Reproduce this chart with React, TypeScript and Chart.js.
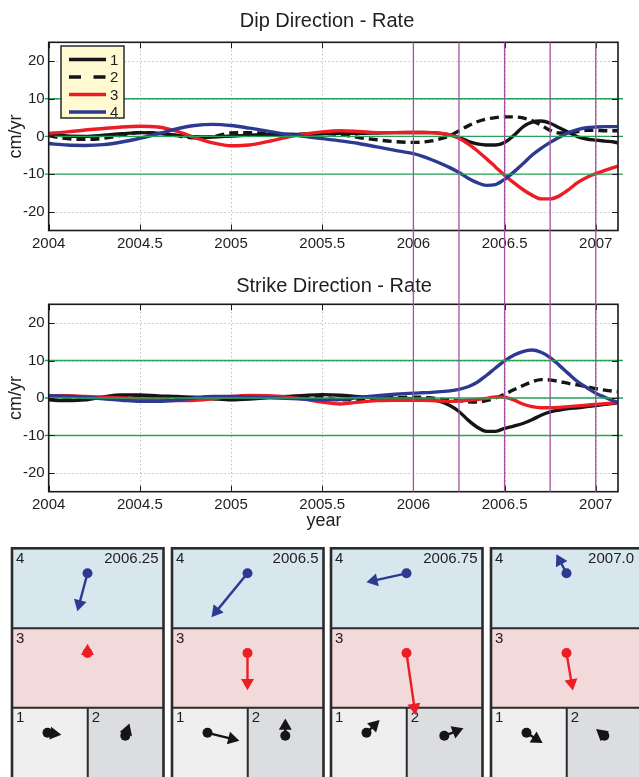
import React, { useEffect, useRef } from 'react';
import { Chart, registerables } from 'chart.js';

Chart.register(...registerables);

const FONT = '"Liberation Sans", Arial, Helvetica, sans-serif';

// ---------------- data ----------------
const years = [
  2004.0, 2004.1, 2004.2, 2004.3, 2004.4, 2004.5, 2004.6, 2004.7, 2004.8, 2004.9,
  2005.0, 2005.1, 2005.2, 2005.3, 2005.4, 2005.5, 2005.6, 2005.7, 2005.8, 2005.9,
  2006.0, 2006.05, 2006.1, 2006.15, 2006.2, 2006.25, 2006.3, 2006.35, 2006.4, 2006.45,
  2006.5, 2006.55, 2006.6, 2006.65, 2006.7, 2006.75, 2006.8, 2006.85, 2006.9, 2006.95,
  2007.0, 2007.05, 2007.1, 2007.12,
];

const dip1 = [
  0.5, 0.1, 0.0, 0.3, 0.7, 1.0, 0.85, 0.35, -0.1, -0.15,
  0.1, 0.35, 0.45, 0.5, 0.55, 0.7, 0.8, 0.8, 0.9, 1.0,
  1.05, 1.05, 1.0, 0.8, 0.4, -0.3, -1.3, -2.0, -2.3, -2.3,
  -1.6, 0.2, 2.5, 3.8, 4.1, 3.5, 2.3, 1.1, -0.1, -0.7,
  -1.0, -1.25, -1.5, -1.7,
];
const dip2 = [
  0.2, -0.6, -0.8, -0.5, 0.3, 1.0, 0.9, 0.2, -0.4, -0.1,
  0.9, 1.0, 0.8, 0.5, 0.6, 0.8, 0.5, -0.3, -0.9, -1.4,
  -1.6, -1.5, -1.2, -0.6, 0.2, 1.5, 2.8, 3.9, 4.6, 5.0,
  5.2, 5.2, 4.9, 4.2, 3.0, 1.6, 0.9, 0.9, 1.3, 1.6,
  1.6, 1.5, 1.5, 1.5,
];
const dip3 = [
  0.8, 1.2, 1.7, 2.1, 2.5, 2.7, 2.5, 1.4, -0.3, -1.7,
  -2.5, -2.3, -1.4, -0.3, 0.6, 1.2, 1.5, 1.3, 1.0, 1.0,
  1.05, 1.05, 1.0, 0.8, 0.4, -0.5, -2.0, -3.8, -5.9, -8.1,
  -10.3, -12.3, -14.1, -15.6, -16.6, -16.6, -15.8, -14.2, -12.3, -10.9,
  -9.9, -9.0, -8.2, -7.9,
];
const dip4 = [
  -1.9, -2.3, -2.4, -2.2, -1.5, -0.5, 0.7, 2.0, 2.9, 3.2,
  2.9, 2.2, 1.4, 0.6, 0.0, -0.6, -1.2, -1.9, -2.8, -3.7,
  -4.6, -5.3, -6.2, -7.2, -8.3, -9.6, -11.1, -12.3, -13.0, -12.8,
  -11.4, -9.5, -7.3, -5.0, -3.2, -1.6, -0.2, 1.0, 1.8, 2.3,
  2.5, 2.6, 2.6, 2.6,
];

const strike1 = [
  -0.5, -0.7, -0.5, 0.3, 0.8, 0.8, 0.55, 0.4, 0.2, -0.2,
  -0.5, -0.3, 0.1, 0.4, 0.7, 0.9, 0.75, 0.35, 0.1, -0.1,
  -0.2, -0.3, -0.5, -1.0, -2.0, -3.6, -5.9, -7.8, -8.9, -8.9,
  -8.1, -7.5, -6.8, -5.8, -4.6, -3.7, -3.2, -2.8, -2.6, -2.3,
  -2.0, -1.7, -1.4, -1.3,
];
const strike2 = [
  -0.3, -0.4, -0.2, 0.2, 0.5, 0.5, 0.3, 0.1, 0.1, 0.2,
  0.1, 0.0, 0.1, 0.3, 0.4, 0.3, -0.5, -0.4, 0.0, 0.1,
  0.2, 0.2, 0.0, -0.3, -0.5, -0.7, -1.0, -1.1, -0.7, 0.0,
  1.0, 2.2, 3.3, 4.3, 4.9, 4.8, 4.4, 3.9, 3.5, 3.0,
  2.5, 2.1, 1.8, 1.7,
];
const strike3 = [
  0.6, 0.6, 0.4, 0.2, 0.0, -0.2, -0.4, -0.7, -0.6, -0.2,
  0.4, 0.7, 0.6, 0.3, -0.3, -1.1, -1.6, -1.1, -0.7, -0.6,
  -0.6, -0.6, -0.7, -0.8, -0.9, -0.8, -0.6, -0.4, -0.1, 0.3,
  0.2, -0.5, -1.6, -2.3, -2.6, -2.6, -2.5, -2.3, -2.1, -1.9,
  -1.7, -1.5, -1.3, -1.2,
];
const strike4 = [
  0.6, 0.5, 0.2, -0.2, -0.6, -0.9, -0.9, -0.6, 0.0, 0.4,
  0.4, 0.3, 0.1, -0.1, -0.3, -0.5, -0.4, 0.1, 0.6, 1.0,
  1.3, 1.4, 1.5, 1.7, 1.9, 2.3, 3.0, 4.2, 6.0, 8.0,
  9.9, 11.4, 12.4, 12.8, 12.2, 10.8, 8.7, 6.5, 4.4, 2.8,
  1.3, 0.2, -0.8, -1.1,
];

const seriesLabels = ['1', '2', '3', '4'];
const xTickValues = [2004, 2004.5, 2005, 2005.5, 2006, 2006.5, 2007];
const yTickValues = [-20, -10, 0, 10, 20];
const refLevels = [-10, 0, 10];
const snapshotYears = [2006, 2006.25, 2006.5, 2006.75, 2007];

// arrow snapshots (cm/yr), index = station 1..4
const panelLabels = ['2006.25', '2006.5', '2006.75', '2007.0'];
const arrowEast = [
  [3.7, 1.1, 0.0, -2.7],
  [8.5, 0.0, 0.0, -9.6],
  [3.5, 5.1, 2.4, -10.7],
  [4.3, -2.2, 1.7, -2.7],
];
const arrowNorth = [
  [-0.5, 3.3, 2.5, -10.1],
  [-2.1, 4.6, -9.9, -11.7],
  [3.4, 2.0, -16.5, -2.4],
  [-2.7, 1.8, -10.0, 5.1],
];

// ---------------- styles ----------------
const COLORS = ['#151515', '#151515', '#ee1d24', '#2c3a92'];
const GREEN = '#25a456';
const PURPLE = '#a2509f';
const TEXT = '#1e1e1e';

// ---------------- rate chart decoration ----------------
const rateDecor = {
  id: 'rateDecor',
  beforeDatasetsDraw(chart: any) {
    const { ctx, chartArea: a } = chart;
    const sx = chart.scales.x;
    const sy = chart.scales.y;
    ctx.save();
    ctx.strokeStyle = '#a3a3a3';
    ctx.lineWidth = 1;
    ctx.setLineDash([1, 3]);
    ctx.beginPath();
    xTickValues.forEach((v) => {
      const px = Math.round(sx.getPixelForValue(v)) + 0.5;
      if (px > a.left + 2 && px < a.right - 2) {
        ctx.moveTo(px, a.top);
        ctx.lineTo(px, a.bottom);
      }
    });
    yTickValues.forEach((v) => {
      const py = Math.round(sy.getPixelForValue(v)) + 0.5;
      ctx.moveTo(a.left, py);
      ctx.lineTo(a.right, py);
    });
    ctx.stroke();
    ctx.restore();
  },
  afterDatasetsDraw(chart: any, _args: any, opts: any) {
    const { ctx, chartArea: a } = chart;
    const sx = chart.scales.x;
    const sy = chart.scales.y;
    ctx.save();
    ctx.setLineDash([]);
    // reference levels
    ctx.strokeStyle = GREEN;
    ctx.lineWidth = 1.3;
    refLevels.forEach((v) => {
      const py = sy.getPixelForValue(v);
      ctx.beginPath();
      ctx.moveTo(a.left - 4, py);
      ctx.lineTo(a.right + 5, py);
      ctx.stroke();
    });
    // box
    ctx.strokeStyle = '#1a1a1a';
    ctx.lineWidth = 1.6;
    ctx.strokeRect(a.left, a.top, a.right - a.left, a.bottom - a.top);
    // inward ticks
    ctx.lineWidth = 1;
    ctx.beginPath();
    xTickValues.forEach((v) => {
      const px = Math.round(sx.getPixelForValue(v)) + 0.5;
      ctx.moveTo(px, a.bottom);
      ctx.lineTo(px, a.bottom - 6);
      ctx.moveTo(px, a.top);
      ctx.lineTo(px, a.top + 6);
    });
    yTickValues.forEach((v) => {
      const py = Math.round(sy.getPixelForValue(v)) + 0.5;
      ctx.moveTo(a.left, py);
      ctx.lineTo(a.left + 6, py);
      ctx.moveTo(a.right, py);
      ctx.lineTo(a.right - 6, py);
    });
    ctx.stroke();
    // title
    ctx.fillStyle = TEXT;
    ctx.font = `20px ${FONT}`;
    ctx.textAlign = 'center';
    ctx.textBaseline = 'middle';
    ctx.fillText(opts.title, opts.titleX, opts.titleY);
    if (opts.xLabel) {
      ctx.font = `18px ${FONT}`;
      ctx.fillText(opts.xLabel, opts.xLabelX, opts.xLabelY);
    }
    // snapshot markers
    ctx.strokeStyle = PURPLE;
    ctx.lineWidth = 1.3;
    const y0 = opts.purpleFromCanvasTop ? 0 : a.top;
    const y1 = opts.purpleFromCanvasTop ? a.bottom : chart.height;
    snapshotYears.forEach((v) => {
      const px = sx.getPixelForValue(v);
      ctx.beginPath();
      ctx.moveTo(px, y0);
      ctx.lineTo(px, y1);
      ctx.stroke();
    });
    // legend
    if (opts.legend) {
      const lx = 61, ly = 46, lw = 63, lh = 72;
      ctx.fillStyle = '#fffad2';
      ctx.fillRect(lx, ly, lw, lh);
      ctx.strokeStyle = '#2a2a2a';
      ctx.lineWidth = 1.5;
      ctx.strokeRect(lx, ly, lw, lh);
      chart.data.datasets.forEach((ds: any, i: number) => {
        const ry = ly + 13.5 + i * 17.5;
        ctx.strokeStyle = ds.borderColor;
        ctx.lineWidth = 3.5;
        ctx.setLineDash(ds.borderDash && ds.borderDash.length ? [12, 12.5] : []);
        ctx.beginPath();
        ctx.moveTo(lx + 8, ry);
        ctx.lineTo(lx + 45, ry);
        ctx.stroke();
        ctx.setLineDash([]);
        ctx.fillStyle = TEXT;
        ctx.font = `15px ${FONT}`;
        ctx.textAlign = 'left';
        ctx.textBaseline = 'middle';
        ctx.fillText(ds.label, lx + 49, ry + 1);
      });
    }
    ctx.restore();
  },
};

function makeRateChart(
  canvas: HTMLCanvasElement,
  series: number[][],
  o: any,
) {
  const datasets = series.map((vals, i) => ({
    label: seriesLabels[i],
    data: years.map((x, j) => ({ x, y: vals[j] })),
    borderColor: COLORS[i],
    backgroundColor: COLORS[i],
    borderWidth: 3.4,
    borderDash: i === 1 ? [9, 5] : [],
    borderCapStyle: 'butt',
    pointRadius: 0,
    cubicInterpolationMode: 'monotone',
    fill: false,
    order: 4 - i,
  }));
  return new Chart(canvas, {
    type: 'line',
    data: { datasets } as any,
    plugins: [rateDecor as any],
    options: {
      responsive: false,
      animation: false,
      devicePixelRatio: 1,
      events: [],
      layout: { autoPadding: false, padding: { top: 42.3, right: 21, left: 0, bottom: 0 } },
      plugins: {
        legend: { display: false },
        tooltip: { enabled: false },
        rateDecor: o,
      } as any,
      scales: {
        x: {
          type: 'linear',
          min: 2004,
          max: 2007.122,
          afterBuildTicks: (s: any) => {
            s.ticks = xTickValues.map((v) => ({ value: v }));
          },
          afterFit: (s: any) => {
            s.height = o.xAxisHeight;
          },
          grid: { display: false, drawTicks: false },
          border: { display: false },
          ticks: {
            padding: 4.5,
            maxRotation: 0,
            autoSkip: false,
            color: TEXT,
            font: { family: FONT, size: 15 },
            callback: (v: any) => String(Math.round(Number(v) * 10) / 10),
          },
        },
        y: {
          type: 'linear',
          min: -25,
          max: 25,
          afterBuildTicks: (s: any) => {
            s.ticks = yTickValues.map((v) => ({ value: v }));
          },
          afterFit: (s: any) => {
            s.width = 48.7;
          },
          grid: { display: false, drawTicks: false },
          border: { display: false },
          ticks: {
            padding: 4,
            autoSkip: false,
            color: TEXT,
            font: { family: FONT, size: 15 },
            callback: (v: any) => String(v),
          },
          title: {
            display: true,
            text: 'cm/yr',
            color: TEXT,
            font: { family: FONT, size: 18 },
            padding: { top: 5, bottom: 0 },
          },
        },
      },
    } as any,
  });
}

// ---------------- snapshot panels ----------------
const PANEL_LEFTS = [12, 172, 331, 491];
const PANEL_W = 151.5;
const PANEL_TOP = 8.3;
const ROW_H = 80;
const ARROW_PX_PER_UNIT = 3.75;
const HEAD_R = 7.5;
// station anchor offsets relative to panel left/top, index = station 1..4
const STATION_OFFSETS = [
  [35.5, 184.5],
  [113.3, 187.5],
  [75.5, 104.7],
  [75.5, 25],
];
const DRAW_ORDER = [3, 2, 0, 1];

const panelDecor = {
  id: 'panelDecor',
  beforeDatasetsDraw(chart: any) {
    const { ctx } = chart;
    const sx = chart.scales.x;
    const sy = chart.scales.y;
    const X = (v: number) => sx.getPixelForValue(v);
    const Y = (v: number) => sy.getPixelForValue(v);
    ctx.save();
    panelLabels.forEach((lab, p) => {
      const L = PANEL_LEFTS[p];
      const R = L + PANEL_W;
      const T = PANEL_TOP;
      const M1 = T + ROW_H;
      const M2 = M1 + 79.4;
      const B = 250;
      const C = L + PANEL_W / 2;
      ctx.fillStyle = '#d8e7ed';
      ctx.fillRect(X(L), Y(T), X(R) - X(L), Y(M1) - Y(T));
      ctx.fillStyle = '#f2d9da';
      ctx.fillRect(X(L), Y(M1), X(R) - X(L), Y(M2) - Y(M1));
      ctx.fillStyle = '#efefef';
      ctx.fillRect(X(L), Y(M2), X(C) - X(L), Y(B) - Y(M2));
      ctx.fillStyle = '#dcdde0';
      ctx.fillRect(X(C), Y(M2), X(R) - X(C), Y(B) - Y(M2));
      ctx.strokeStyle = '#2b2b2b';
      ctx.lineWidth = 2;
      ctx.beginPath();
      ctx.moveTo(X(L), Y(M1));
      ctx.lineTo(X(R), Y(M1));
      ctx.moveTo(X(L), Y(M2));
      ctx.lineTo(X(R), Y(M2));
      ctx.moveTo(X(C), Y(M2));
      ctx.lineTo(X(C), Y(B));
      ctx.stroke();
      ctx.lineWidth = 2.6;
      ctx.strokeRect(X(L), Y(T), X(R) - X(L), Y(B) - Y(T));
      ctx.fillStyle = TEXT;
      ctx.font = `15px ${FONT}`;
      ctx.textBaseline = 'middle';
      ctx.textAlign = 'left';
      ctx.fillText('4', X(L + 4), Y(T + 11));
      ctx.fillText('3', X(L + 4), Y(M1 + 11));
      ctx.fillText('1', X(L + 4), Y(M2 + 10));
      ctx.fillText('2', X(C + 4), Y(M2 + 10));
      ctx.textAlign = 'right';
      ctx.fillText(lab, X(Math.min(R - 5, 634)), Y(T + 10.5));
    });
    ctx.restore();
  },
};

function makePanelChart(canvas: HTMLCanvasElement) {
  const datasets: any[] = [];
  panelLabels.forEach((_lab, p) => {
    DRAW_ORDER.forEach((s) => {
      const ox = PANEL_LEFTS[p] + STATION_OFFSETS[s][0];
      const oy = PANEL_TOP + STATION_OFFSETS[s][1];
      const dx = arrowEast[p][s] * ARROW_PX_PER_UNIT;
      const dy = -arrowNorth[p][s] * ARROW_PX_PER_UNIT;
      const len = Math.hypot(dx, dy) || 1;
      const ux = dx / len;
      const uy = dy / len;
      const hx = ox + dx - HEAD_R * ux;
      const hy = oy + dy - HEAD_R * uy;
      const angle = (Math.atan2(ux, -uy) * 180) / Math.PI;
      const c = COLORS[s];
      datasets.push({
        label: `${panelLabels[p]}-${s + 1}`,
        data: [
          { x: ox, y: oy },
          { x: hx, y: hy },
        ],
        showLine: true,
        borderColor: c,
        backgroundColor: c,
        borderWidth: 2.4,
        pointStyle: ['circle', 'triangle'],
        pointRadius: [5, HEAD_R],
        pointRotation: [0, angle],
        pointBackgroundColor: c,
        pointBorderColor: c,
        pointBorderWidth: 0,
        tension: 0,
        clip: false,
      });
    });
  });
  return new Chart(canvas, {
    type: 'scatter',
    data: { datasets },
    plugins: [panelDecor as any],
    options: {
      responsive: false,
      animation: false,
      devicePixelRatio: 1,
      events: [],
      layout: { autoPadding: false, padding: 0 },
      plugins: { legend: { display: false }, tooltip: { enabled: false } },
      scales: {
        x: { type: 'linear', min: 0, max: 639, display: false },
        y: { type: 'linear', min: 0, max: 237, reverse: true, display: false },
      },
    } as any,
  });
}

export default function App() {
  const topRef = useRef<HTMLCanvasElement>(null);
  const botRef = useRef<HTMLCanvasElement>(null);
  const panRef = useRef<HTMLCanvasElement>(null);

  useEffect(() => {
    const charts: Chart[] = [];
    if (topRef.current) {
      charts.push(
        makeRateChart(topRef.current, [dip1, dip2, dip3, dip4], {
          title: 'Dip Direction - Rate',
          titleX: 327,
          titleY: 21,
          legend: true,
          purpleFromCanvasTop: false,
          xAxisHeight: 31.5,
        }),
      );
    }
    if (botRef.current) {
      charts.push(
        makeRateChart(botRef.current, [strike1, strike2, strike3, strike4], {
          title: 'Strike Direction - Rate',
          titleX: 334,
          titleY: 24,
          legend: false,
          purpleFromCanvasTop: true,
          xAxisHeight: 48.3,
          xLabel: 'year',
          xLabelX: 324,
          xLabelY: 259,
        }),
      );
    }
    if (panRef.current) charts.push(makePanelChart(panRef.current));
    return () => charts.forEach((c) => c.destroy());
  }, []);

  return (
    <div style={{ position: 'absolute', left: 0, top: 0, width: 639, height: 777, background: '#fff', overflow: 'hidden' }}>
      <canvas ref={topRef} width={639} height={262} style={{ position: 'absolute', left: 0, top: 0 }} />
      <canvas ref={botRef} width={639} height={278} style={{ position: 'absolute', left: 0, top: 262 }} />
      <canvas ref={panRef} width={639} height={237} style={{ position: 'absolute', left: 0, top: 540 }} />
    </div>
  );
}
